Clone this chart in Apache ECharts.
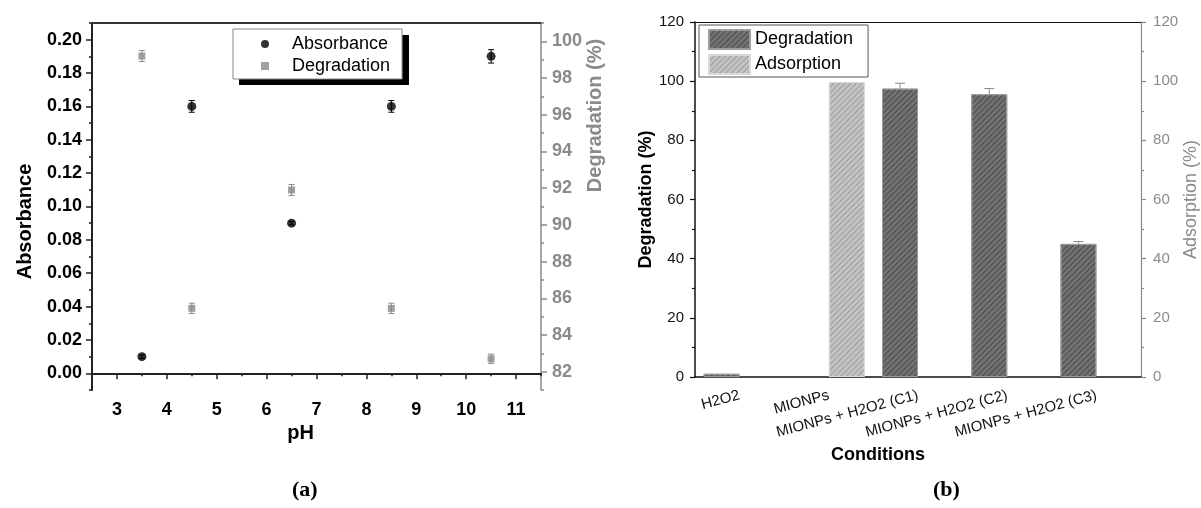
<!DOCTYPE html>
<html>
<head>
<meta charset="utf-8">
<script src="https://cdn.jsdelivr.net/npm/echarts@6/dist/echarts.min.js"></script>
<style>
  html, body { margin: 0; padding: 0; background: #fff; }
  #main { width: 1201px; height: 508px; }
</style>
</head>
<body>
<div id="main"></div>
<script>
// ---- data (a): absorbance / degradation vs pH
const phValues = [3.5, 4.5, 6.5, 8.5, 10.5];
const absorbance = [0.01, 0.16, 0.09, 0.16, 0.19];
const absorbanceErr = [0.001, 0.0035, 0.001, 0.0035, 0.004];
const degradationPH = [99.2, 85.45, 91.9, 85.45, 82.7];
const degradationPHErr = [0.3, 0.28, 0.3, 0.28, 0.25];

const phTicks = [3, 4, 5, 6, 7, 8, 9, 10, 11];
const phMinor = [3.5, 4.5, 5.5, 6.5, 7.5, 8.5, 9.5, 10.5, 11.5];
const absTicks = [0, 0.02, 0.04, 0.06, 0.08, 0.10, 0.12, 0.14, 0.16, 0.18, 0.20];
const absMinor = [-0.01, 0.01, 0.03, 0.05, 0.07, 0.09, 0.11, 0.13, 0.15, 0.17, 0.19, 0.21];
const degTicks = [82, 84, 86, 88, 90, 92, 94, 96, 98, 100];
const degMinor = [81, 83, 85, 87, 89, 91, 93, 95, 97, 99, 101];

// ---- data (b): conditions
const conditions = ['H2O2', 'MIONPs', 'MIONPs + H2O2 (C1)', 'MIONPs + H2O2 (C2)', 'MIONPs + H2O2 (C3)'];
const degradation = [1.1, '-', 97.5, 95.6, 45.0];
const degradationErr = [0, 0, 1.8, 1.9, 0.8];
const adsorption = ['-', 99.7, '-', '-', '-'];

const FONT = 'Liberation Sans, Arial, sans-serif';
const GRAY = '#8a8a8a';
const BAR_W = 36;

const legendText = { 'Degradation-a': 'Degradation', 'Degradation-b': 'Degradation' };

function errRender(cap, color, shift, plusOnly) {
  return function (params, api) {
    const e = api.value(2);
    if (!e) return;
    const hi = api.coord([api.value(0), api.value(1) + e]);
    const lo = api.coord([api.value(0), plusOnly ? api.value(1) : api.value(1) - e]);
    const x = hi[0] + shift;
    const st = { stroke: color, lineWidth: 1 };
    const kids = [
      { type: 'line', shape: { x1: x, y1: hi[1], x2: x, y2: lo[1] }, style: st },
      { type: 'line', shape: { x1: x - cap, y1: hi[1], x2: x + cap, y2: hi[1] }, style: st }
    ];
    if (!plusOnly) kids.push({ type: 'line', shape: { x1: x - cap, y1: lo[1], x2: x + cap, y2: lo[1] }, style: st });
    return { type: 'group', children: kids };
  };
}

const chart = echarts.init(document.getElementById('main'));

const boldTick = (c) => ({ fontFamily: FONT, fontSize: 18, fontWeight: 'bold', color: c });
const panelTag = (letter, x) => ({
  text: '{p|(}{b|' + letter + '}{p|)}', left: x, top: 474,
  textStyle: { rich: {
    p: { fontFamily: 'Liberation Serif, serif', fontSize: 22, color: '#000' },
    b: { fontFamily: 'Liberation Serif, serif', fontSize: 22, fontWeight: 'bold', color: '#000' }
  } }
});
const hatch = (c) => ({ symbol: 'rect', symbolSize: 1, dashArrayX: [1, 0], dashArrayY: [1, 2.5], rotation: -Math.PI / 4, color: c });

const option = {
  backgroundColor: '#fff',
  animation: false,
  title: [panelTag('a', 287), panelTag('b', 928)],
  // solid drop shadow behind the legend box of panel (a)
  graphic: [{ type: 'rect', z: 1, shape: { x: 239, y: 35, width: 170, height: 50 }, style: { fill: '#000' } }],
  grid: [
    { left: 92, top: 23, width: 449, height: 367 },
    { left: 695, top: 22, width: 449, height: 355 }
  ],
  legend: [
    {
      data: [{ name: 'Absorbance', icon: 'circle' }, { name: 'Degradation-a', icon: 'path://M0 0H1V1H0Z' }],
      orient: 'vertical', left: 233, top: 29, itemWidth: 44, itemHeight: 8, itemGap: 4, z: 10,
      padding: [6, 12, 4, 28], borderColor: '#888', borderWidth: 1, backgroundColor: '#fff',
      selectedMode: false, formatter: (n) => legendText[n] || n,
      textStyle: { fontFamily: FONT, fontSize: 18, color: '#000' }
    },
    {
      data: ['Degradation-b', 'Adsorption'],
      orient: 'vertical', left: 699, top: 25, itemWidth: 41, itemHeight: 19, itemGap: 4,
      padding: [4, 15, 2, 9], borderColor: '#555', borderWidth: 1, backgroundColor: '#fff',
      icon: 'rect', selectedMode: false, formatter: (n) => legendText[n] || n,
      textStyle: { fontFamily: FONT, fontSize: 18, color: '#000' }
    }
  ],
  xAxis: [
    { // 0: pH main
      type: 'value', gridIndex: 0, min: 2.5, max: 11.5, position: 'bottom',
      name: 'pH', nameLocation: 'middle', nameGap: 33,
      nameTextStyle: { fontFamily: FONT, fontSize: 20, fontWeight: 'bold', color: '#000', padding: [0, 32, 0, 0] },
      axisLine: { lineStyle: { color: '#222', width: 2 } },
      axisTick: { customValues: phTicks, length: 6, lineStyle: { color: '#222', width: 1.5 } },
      axisLabel: { customValues: phTicks, margin: 11, ...boldTick('#000') },
      splitLine: { show: false }
    },
    { // 1: pH minor ticks
      type: 'value', gridIndex: 0, min: 2.5, max: 11.5, position: 'bottom',
      axisLine: { show: false },
      axisTick: { customValues: phMinor, length: 3, lineStyle: { color: '#222', width: 1.5 } },
      axisLabel: { show: false }, splitLine: { show: false }
    },
    { // 2: top frame (a)
      type: 'value', gridIndex: 0, min: 2.5, max: 11.5, position: 'top',
      axisLine: { lineStyle: { color: '#333', width: 2 } },
      axisTick: { show: false }, axisLabel: { show: false }, splitLine: { show: false }
    },
    { // 3: conditions main
      type: 'category', gridIndex: 1, data: conditions, position: 'bottom',
      name: 'Conditions', nameLocation: 'middle', nameGap: 51,
      nameTextStyle: { fontFamily: FONT, fontSize: 18, fontWeight: 'bold', color: '#000', padding: [0, 80, 0, 0] },
      axisLine: { lineStyle: { color: '#111', width: 1.5 } },
      axisTick: { interval: 0, length: 5, lineStyle: { color: '#111', width: 1.2 } },
      axisLabel: { interval: 0, rotate: 15, margin: 18, fontFamily: FONT, fontSize: 15, color: '#111' },
      splitLine: { show: false }
    },
    { // 4: center ticks
      type: 'category', gridIndex: 1, data: conditions, position: 'bottom',
      axisLine: { show: false },
      axisTick: { alignWithLabel: true, interval: 0, length: 5, lineStyle: { color: '#111', width: 1.2 } },
      axisLabel: { show: false }, splitLine: { show: false }
    },
    { // 5: top frame (b)
      type: 'category', gridIndex: 1, data: conditions, position: 'top',
      axisLine: { lineStyle: { color: '#111', width: 1.2 } },
      axisTick: { show: false }, axisLabel: { show: false }, splitLine: { show: false }
    }
  ],
  yAxis: [
    { // 0: absorbance main
      type: 'value', gridIndex: 0, min: -0.01, max: 0.21, position: 'left',
      name: 'Absorbance', nameLocation: 'middle', nameGap: 57, nameRotate: 90,
      nameTextStyle: { fontFamily: FONT, fontSize: 20, fontWeight: 'bold', color: '#000', padding: [0, 30, 0, 0] },
      axisLine: { show: true, lineStyle: { color: '#222', width: 2 } },
      axisTick: { show: true, customValues: absTicks, length: 6, lineStyle: { color: '#222', width: 1.5 } },
      axisLabel: { customValues: absTicks, margin: 10, formatter: (v) => v.toFixed(2), ...boldTick('#000') },
      splitLine: { show: false }
    },
    { // 1: absorbance minor
      type: 'value', gridIndex: 0, min: -0.01, max: 0.21, position: 'left',
      axisLine: { show: false },
      axisTick: { show: true, customValues: absMinor, length: 3, lineStyle: { color: '#222', width: 1.5 } },
      axisLabel: { show: false }, splitLine: { show: false }
    },
    { // 2: degradation (%) main, right
      type: 'value', gridIndex: 0, min: 81, max: 101, position: 'right',
      name: 'Degradation (%)', nameLocation: 'middle', nameGap: 44, nameRotate: 90,
      nameTextStyle: { fontFamily: FONT, fontSize: 20, fontWeight: 'bold', color: GRAY, padding: [0, 0, 0, 182] },
      axisLine: { show: true, lineStyle: { color: GRAY, width: 1.5 } },
      axisTick: { show: true, customValues: degTicks, length: 6, lineStyle: { color: GRAY, width: 1.5 } },
      axisLabel: { customValues: degTicks, margin: 11, ...boldTick(GRAY) },
      splitLine: { show: false }
    },
    { // 3: degradation minor
      type: 'value', gridIndex: 0, min: 81, max: 101, position: 'right',
      axisLine: { show: false },
      axisTick: { show: true, customValues: degMinor, length: 3, lineStyle: { color: GRAY, width: 1.5 } },
      axisLabel: { show: false }, splitLine: { show: false }
    },
    { // 4: degradation (%) (b)
      type: 'value', gridIndex: 1, min: 0, max: 120, interval: 20, position: 'left',
      name: 'Degradation (%)', nameLocation: 'middle', nameGap: 40, nameRotate: 90,
      nameTextStyle: { fontFamily: FONT, fontSize: 18, fontWeight: 'bold', color: '#000' },
      axisLine: { show: true, lineStyle: { color: '#111', width: 1.5 } },
      axisTick: { show: true, length: 5, lineStyle: { color: '#111', width: 1.2 } },
      minorTick: { show: true, splitNumber: 2, length: 3, lineStyle: { color: '#111', width: 1.2 } },
      axisLabel: { margin: 11, fontFamily: FONT, fontSize: 15, color: '#111' },
      splitLine: { show: false }
    },
    { // 5: adsorption (%) (b)
      type: 'value', gridIndex: 1, min: 0, max: 120, interval: 20, position: 'right',
      name: 'Adsorption (%)', nameLocation: 'middle', nameGap: 39, nameRotate: 90,
      nameTextStyle: { fontFamily: FONT, fontSize: 18, color: GRAY },
      axisLine: { show: true, lineStyle: { color: GRAY, width: 1.2 } },
      axisTick: { show: true, length: 5, lineStyle: { color: GRAY, width: 1.2 } },
      minorTick: { show: true, splitNumber: 2, length: 3, lineStyle: { color: GRAY, width: 1.2 } },
      axisLabel: { margin: 12, fontFamily: FONT, fontSize: 15, color: GRAY },
      splitLine: { show: false }
    }
  ],
  series: [
    {
      name: 'Absorbance-err', type: 'custom', xAxisIndex: 0, yAxisIndex: 0, z: 3,
      renderItem: errRender(3, '#000', 0, false),
      data: phValues.map((p, i) => [p, absorbance[i], absorbanceErr[i]])
    },
    {
      name: 'Degradation-a-err', type: 'custom', xAxisIndex: 0, yAxisIndex: 2, z: 3,
      renderItem: errRender(3, GRAY, 0, false),
      data: phValues.map((p, i) => [p, degradationPH[i], degradationPHErr[i]])
    },
    {
      name: 'Absorbance', type: 'scatter', xAxisIndex: 0, yAxisIndex: 0, z: 4,
      symbol: 'circle', symbolSize: 9, itemStyle: { color: '#000' },
      data: phValues.map((p, i) => [p, absorbance[i]])
    },
    {
      name: 'Degradation-a', type: 'scatter', xAxisIndex: 0, yAxisIndex: 2, z: 4,
      symbol: 'rect', symbolSize: 7, itemStyle: { color: GRAY },
      data: phValues.map((p, i) => [p, degradationPH[i]])
    },
    {
      name: 'Degradation-b', type: 'bar', xAxisIndex: 3, yAxisIndex: 4,
      barWidth: BAR_W, barGap: '0%',
      itemStyle: { color: '#727272', borderColor: '#9c9c9c', borderWidth: 1, decal: hatch('rgba(40,40,40,0.55)') },
      data: degradation
    },
    {
      name: 'Adsorption', type: 'bar', xAxisIndex: 3, yAxisIndex: 5,
      barWidth: BAR_W, barGap: '0%',
      itemStyle: { color: '#c3c3c3', borderColor: '#d9d9d9', borderWidth: 1, decal: hatch('rgba(130,130,130,0.6)') },
      data: adsorption
    },
    {
      name: 'Degradation-b-err', type: 'custom', xAxisIndex: 3, yAxisIndex: 4, z: 5,
      renderItem: errRender(5, '#888', -BAR_W / 2, true),
      data: conditions.map((c, i) => [i, degradation[i] === '-' ? 0 : degradation[i], degradationErr[i]])
    }
  ]
};

chart.setOption(option);
</script>
</body>
</html>
